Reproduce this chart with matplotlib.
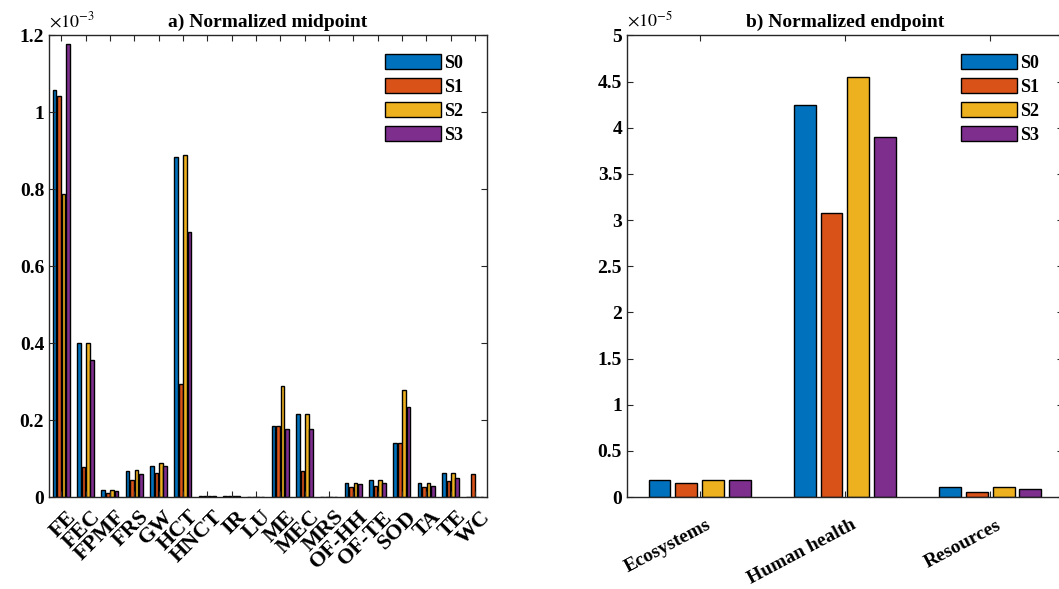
import numpy as np
import matplotlib.pyplot as plt
from matplotlib.ticker import FuncFormatter, MultipleLocator
from matplotlib.transforms import ScaledTranslation

plt.rcParams['font.family'] = ['Liberation Serif', 'DejaVu Serif']
plt.rcParams['mathtext.fontset'] = 'stix'

# midpoint categories, values in units of 1e-3
mid_cats = ['FE', 'FEC', 'FPMF', 'FRS', 'GW', 'HCT', 'HNCT', 'IR', 'LU',
            'ME', 'MEC', 'MRS', 'OF-HH', 'OF-TE', 'SOD', 'TA', 'TE', 'WC']
mid_S0 = [1.057, 0.400, 0.018, 0.068, 0.081, 0.884, 0.003, 0.003, 0.0,
          0.185, 0.215, 0.0, 0.037, 0.044, 0.141, 0.037, 0.063, 0.0]
mid_S1 = [1.043, 0.078, 0.010, 0.044, 0.063, 0.293, 0.002, 0.002, 0.0,
          0.185, 0.067, 0.0, 0.025, 0.029, 0.141, 0.025, 0.042, 0.060]
mid_S2 = [0.787, 0.400, 0.018, 0.070, 0.089, 0.888, 0.004, 0.004, 0.0,
          0.289, 0.215, 0.0, 0.037, 0.044, 0.278, 0.037, 0.063, 0.0]
mid_S3 = [1.177, 0.356, 0.016, 0.059, 0.080, 0.688, 0.003, 0.002, 0.0,
          0.177, 0.177, 0.0, 0.033, 0.037, 0.235, 0.029, 0.049, 0.0]

# endpoint categories, values in units of 1e-5
end_cats = ['Ecosystems', 'Human health', 'Resources']
end_S0 = [0.184, 4.25, 0.105]
end_S1 = [0.155, 3.08, 0.057]
end_S2 = [0.184, 4.55, 0.105]
end_S3 = [0.184, 3.90, 0.090]

series_names = ['S0', 'S1', 'S2', 'S3']
colors = ['#0072BD', '#D95319', '#EDB120', '#7E2F8E']
edge = '#262626'


def fmt(v, pos):
    return '%g' % round(v, 6)


def grouped(ax, cats, data, offset, width, leg_x):
    x = np.arange(1, len(cats) + 1)
    for i, vals in enumerate(data):
        ax.bar(x + (i - 1.5) * offset, vals, width, color=colors[i],
               edgecolor='black', linewidth=1.0, label=series_names[i])
    ax.set_xlim(0.5, len(cats) + 0.5)
    ax.set_xticks(x)
    for s in ax.spines.values():
        s.set_color(edge)
        s.set_linewidth(1.0)
    ax.tick_params(direction='in', top=True, right=True, length=4,
                   color=edge, labelsize=14)
    ax.yaxis.set_major_formatter(FuncFormatter(fmt))
    ax.legend(loc='upper right', bbox_to_anchor=(leg_x, 0.96), frameon=False,
              prop={'weight': 'bold', 'size': 13}, handlelength=3.1,
              handleheight=0.95, labelspacing=0.33, handletextpad=0.15,
              borderaxespad=0, borderpad=0)


def shift_labels(ax, dx):
    for lab in ax.get_xticklabels():
        lab.set_transform(lab.get_transform() +
                          ScaledTranslation(dx / 100, 0, ax.figure.dpi_scale_trans))


fig = plt.figure(figsize=(10.59, 5.89), dpi=100)

ax1 = fig.add_axes([0.0463, 0.156, 0.4136, 0.784])
grouped(ax1, mid_cats, [mid_S0, mid_S1, mid_S2, mid_S3], 0.18, 0.15, 0.945)
ax1.set_ylim(0, 1.2)
ax1.yaxis.set_major_locator(MultipleLocator(0.2))
ax1.set_xticklabels(mid_cats, rotation=45, ha='right', va='top',
                    rotation_mode='anchor', fontweight='bold', fontsize=16)
ax1.tick_params(axis='x', pad=7)
shift_labels(ax1, 5)
ax1.set_title('a) Normalized midpoint', fontweight='bold', fontsize=14, pad=6)
ax1.text(0.0, 1.01, r'$\times10^{-3}$', transform=ax1.transAxes,
         fontsize=13, ha='left', va='bottom')
for lab in ax1.get_yticklabels():
    lab.set_fontweight('bold')

ax2 = fig.add_axes([0.592, 0.156, 0.4117, 0.784])
grouped(ax2, end_cats, [end_S0, end_S1, end_S2, end_S3], 0.184, 0.15, 0.945)
ax2.set_ylim(0, 5)
ax2.yaxis.set_major_locator(MultipleLocator(0.5))
ax2.set_xticklabels(end_cats, rotation=28, ha='right', va='top',
                    rotation_mode='anchor', fontweight='bold', fontsize=14)
ax2.tick_params(axis='x', pad=14)
shift_labels(ax2, 6)
ax2.set_title('b) Normalized endpoint', fontweight='bold', fontsize=14, pad=6)
ax2.text(0.0, 1.01, r'$\times10^{-5}$', transform=ax2.transAxes,
         fontsize=13, ha='left', va='bottom')
for lab in ax2.get_yticklabels():
    lab.set_fontweight('bold')

fig.savefig('out.png', dpi=100)
